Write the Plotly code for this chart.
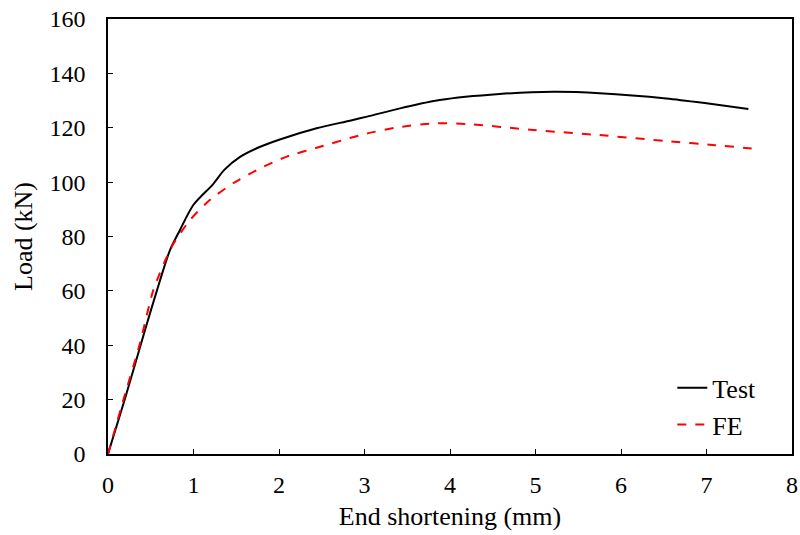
import plotly.graph_objects as go

# End shortening (mm) vs load (kN)
test_x = [0.0, 0.20, 0.433, 0.60, 0.725, 0.842, 0.998, 1.23, 1.36, 1.54, 1.78, 2.01,
          2.44, 2.83, 3.03, 3.45, 3.88, 4.58, 5.21, 5.75, 6.53, 7.0, 7.49]
test_y = [0.0, 20.5, 45.6, 63.0, 75.0, 82.4, 91.6, 99.3, 104.5, 109.2, 113.0, 115.7,
          119.8, 122.6, 124.1, 127.4, 130.2, 132.4, 133.2, 132.7, 130.8, 129.0, 126.9]

fe_x = [0.0, 0.18, 0.374, 0.53, 0.745, 0.96, 1.19, 1.465, 1.78, 2.09, 2.48, 2.83,
        3.03, 3.40, 3.80, 4.19, 4.97, 5.75, 6.53, 7.10, 7.63]
fe_y = [0.0, 19.9, 40.7, 60.3, 76.3, 86.1, 93.4, 99.6, 105.1, 109.4, 113.0, 116.2,
        117.9, 120.2, 121.6, 121.4, 119.2, 117.3, 115.1, 113.6, 112.1]

font = 'Liberation Serif'

fig = go.Figure()
fig.add_trace(go.Scatter(
    x=test_x, y=test_y, mode='lines', name='Test',
    line=dict(color='black', width=2, shape='spline', smoothing=0.8)
))
fig.add_trace(go.Scatter(
    x=fe_x, y=fe_y, mode='lines', name='FE',
    line=dict(color='red', width=2, dash='dash', shape='spline', smoothing=0.6)
))

axis_style = dict(
    showline=True, linecolor='black', linewidth=1.5, mirror=True,
    ticks='inside', ticklen=5, tickcolor='black', showgrid=False, zeroline=False,
    tickfont=dict(family=font, size=24, color='black'), automargin=False,
    ticklabeloverflow='allow',
)

fig.update_layout(
    width=800, height=535,
    margin=dict(l=108, r=8, t=19, b=81),
    paper_bgcolor='white', plot_bgcolor='white',
    xaxis=dict(range=[0, 8], dtick=1, ticklabelstandoff=8,
               title=dict(text='End shortening (mm)', font=dict(family=font, size=26, color='black'),
                          standoff=10),
               **axis_style),
    yaxis=dict(range=[0, 160], dtick=20, ticklabelstandoff=16,
               title=dict(text='Load (kN)', font=dict(family=font, size=26, color='black'),
                          standoff=9),
               **axis_style),
    legend=dict(x=0.825, y=0.206, xanchor='left', yanchor='top', bgcolor='rgba(0,0,0,0)',
                font=dict(family=font, size=26, color='black'), itemwidth=30),
)

# drop the browser's default 8px body margin so the 800x535 figure fills the window
fig.write_html("out.html", config={'displayModeBar': False},
               post_script="document.body.style.margin = '0';")
